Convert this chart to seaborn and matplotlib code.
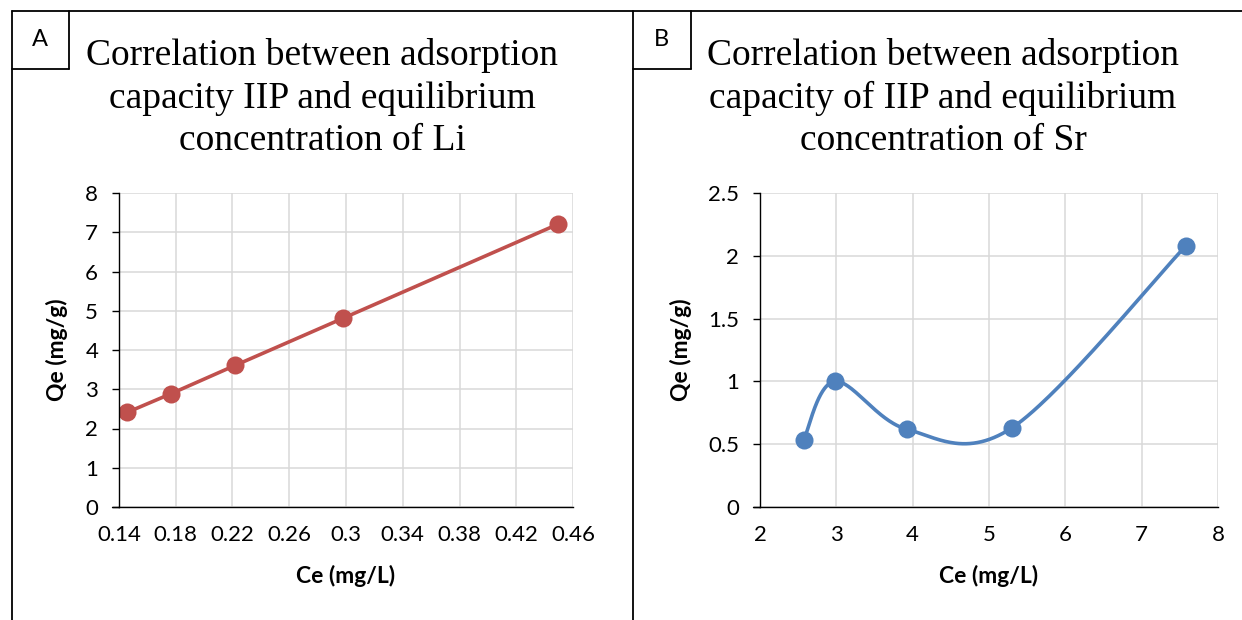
import numpy as np
import pandas as pd
import matplotlib
matplotlib.use("Agg")
import matplotlib.pyplot as plt
from matplotlib.lines import Line2D
import seaborn as sns

# ---------------- data ----------------
li_ce = [0.1457, 0.1769, 0.2220, 0.2980, 0.4497]
li_qe = [2.41, 2.89, 3.61, 4.81, 7.21]

sr_ce = [2.57, 2.98, 3.92, 5.30, 7.58]
sr_qe = [0.53, 1.00, 0.62, 0.63, 2.08]

li_xticks = [0.14, 0.18, 0.22, 0.26, 0.30, 0.34, 0.38, 0.42, 0.46]
li_xlabels = ["0.14", "0.18", "0.22", "0.26", "0.3", "0.34", "0.38", "0.42", "0.46"]
li_yticks = [0, 1, 2, 3, 4, 5, 6, 7, 8]
sr_xticks = [2, 3, 4, 5, 6, 7, 8]
sr_yticks = [0, 0.5, 1, 1.5, 2, 2.5]
sr_ylabels = ["0", "0.5", "1", "1.5", "2", "2.5"]

title_a = "Correlation between adsorption\ncapacity IIP and equilibrium\nconcentration of Li"
title_b = "Correlation between adsorption\ncapacity of IIP and equilibrium\nconcentration of Sr"
xlabel = "Ce (mg/L)"
ylabel = "Qe (mg/g)"

RED = "#C0504D"
BLUE = "#4F81BD"
GRID = "#D9D9D9"

sns.set_theme(style="white")
plt.rcParams["font.family"] = ["Lato", "DejaVu Sans"]

W, H = 1242, 620
fig = plt.figure(figsize=(W / 100, H / 100), dpi=100)


def fx(px):
    return px / W


def fy(py):
    return 1 - py / H


def excel_smooth(x, y, xr, yr, wpx, hpx, n=60):
    """Excel-like smoothed line (Bezier with 1/6 tangents) in screen space."""
    x = np.asarray(x, float)
    y = np.asarray(y, float)
    sx = (x - xr[0]) / (xr[1] - xr[0]) * wpx
    sy = (y - yr[0]) / (yr[1] - yr[0]) * hpx
    P = np.column_stack([sx, sy])
    m = len(P)
    out = []
    for i in range(m - 1):
        p0 = P[i]
        p3 = P[i + 1]
        pm = P[i - 1] if i > 0 else P[i]
        pp = P[i + 2] if i + 2 < m else P[i + 1]
        c1 = p0 + (p3 - pm) / 6.0
        c2 = p3 - (pp - p0) / 6.0
        t = np.linspace(0, 1, n)[:, None]
        seg = ((1 - t) ** 3) * p0 + 3 * ((1 - t) ** 2) * t * c1 + 3 * (1 - t) * t ** 2 * c2 + t ** 3 * p3
        if i > 0:
            seg = seg[1:]
        out.append(seg)
    S = np.vstack(out)
    xs = S[:, 0] / wpx * (xr[1] - xr[0]) + xr[0]
    ys = S[:, 1] / hpx * (yr[1] - yr[0]) + yr[0]
    return xs, ys


def style_axes(ax):
    for s in ["top", "right"]:
        ax.spines[s].set_visible(False)
    for s in ["left", "bottom"]:
        ax.spines[s].set_color("black")
        ax.spines[s].set_linewidth(1.0)
    ax.grid(True, color=GRID, linewidth=1.1)
    ax.set_axisbelow(True)
    ax.tick_params(axis="y", which="both", left=True, length=5, width=1.0,
                   color="black", pad=10, labelsize=16, labelcolor="black")
    ax.tick_params(axis="x", which="both", bottom=False, length=0, pad=13,
                   labelsize=16, labelcolor="black")
    ax.set_xlabel(xlabel, fontsize=16.5, fontweight="bold", labelpad=14, color="black")
    ax.set_ylabel(ylabel, fontsize=16.5, fontweight="bold", labelpad=12, color="black")


# ---------------- Panel A ----------------
axA = fig.add_axes([fx(119), fy(507), fx(573 - 119), (507 - 193) / H])
dfA = pd.DataFrame({"Ce": li_ce, "Qe": li_qe})
sns.lineplot(data=dfA, x="Ce", y="Qe", ax=axA, color=RED, linewidth=2.6,
             marker="o", markersize=13, markeredgewidth=0, sort=False)
axA.set_xlim(0.14, 0.46)
axA.set_ylim(0, 8)
axA.set_xticks(li_xticks)
axA.set_xticklabels(li_xlabels)
axA.set_yticks(li_yticks)
style_axes(axA)
axA.plot([-0.015, 0], [0, 0], transform=axA.transAxes, color="black", lw=1.0, clip_on=False)

# ---------------- Panel B ----------------
axB = fig.add_axes([fx(760), fy(507), fx(1218 - 760), (507 - 193) / H])
xs, ys = excel_smooth(sr_ce, sr_qe, (2, 8), (0, 2.5), 458, 314)
dfBs = pd.DataFrame({"Ce": xs, "Qe": ys})
sns.lineplot(data=dfBs, x="Ce", y="Qe", ax=axB, color=BLUE, linewidth=2.6, sort=False)
dfB = pd.DataFrame({"Ce": sr_ce, "Qe": sr_qe})
sns.scatterplot(data=dfB, x="Ce", y="Qe", ax=axB, color=BLUE, s=169, linewidth=0, zorder=5)
axB.set_xlim(2, 8)
axB.set_ylim(0, 2.5)
axB.set_xticks(sr_xticks)
axB.set_yticks(sr_yticks)
axB.set_yticklabels(sr_ylabels)
style_axes(axB)
axB.plot([-0.015, 0], [0, 0], transform=axB.transAxes, color="black", lw=1.0, clip_on=False)

# ---------------- titles ----------------
for cx, t in [(322, title_a), (943, title_b)]:
    fig.text(fx(cx), fy(98), t, ha="center", va="center", fontsize=27,
             family=["Liberation Serif", "DejaVu Serif"], color="black",
             linespacing=1.3)

# ---------------- borders ----------------
lw = 1.3
lines = [
    ((12, 1242), (11, 11)),      # top
    ((12, 12), (11, 620)),       # left of A
    ((633, 633), (11, 620)),     # divider
    ((12, 69), (69, 69)), ((69, 69), (11, 69)),      # A box
    ((633, 691), (69, 69)), ((691, 691), (11, 69)),  # B box
]
for (x0, x1), (y0, y1) in lines:
    fig.add_artist(Line2D([fx(x0), fx(x1)], [fy(y0), fy(y1)], color="black", lw=lw,
                          transform=fig.transFigure))

fig.text(fx(40), fy(40), "A", ha="center", va="center", fontsize=17, color="black")
fig.text(fx(661), fy(40), "B", ha="center", va="center", fontsize=17, color="black")

fig.savefig("out.png", dpi=100)
